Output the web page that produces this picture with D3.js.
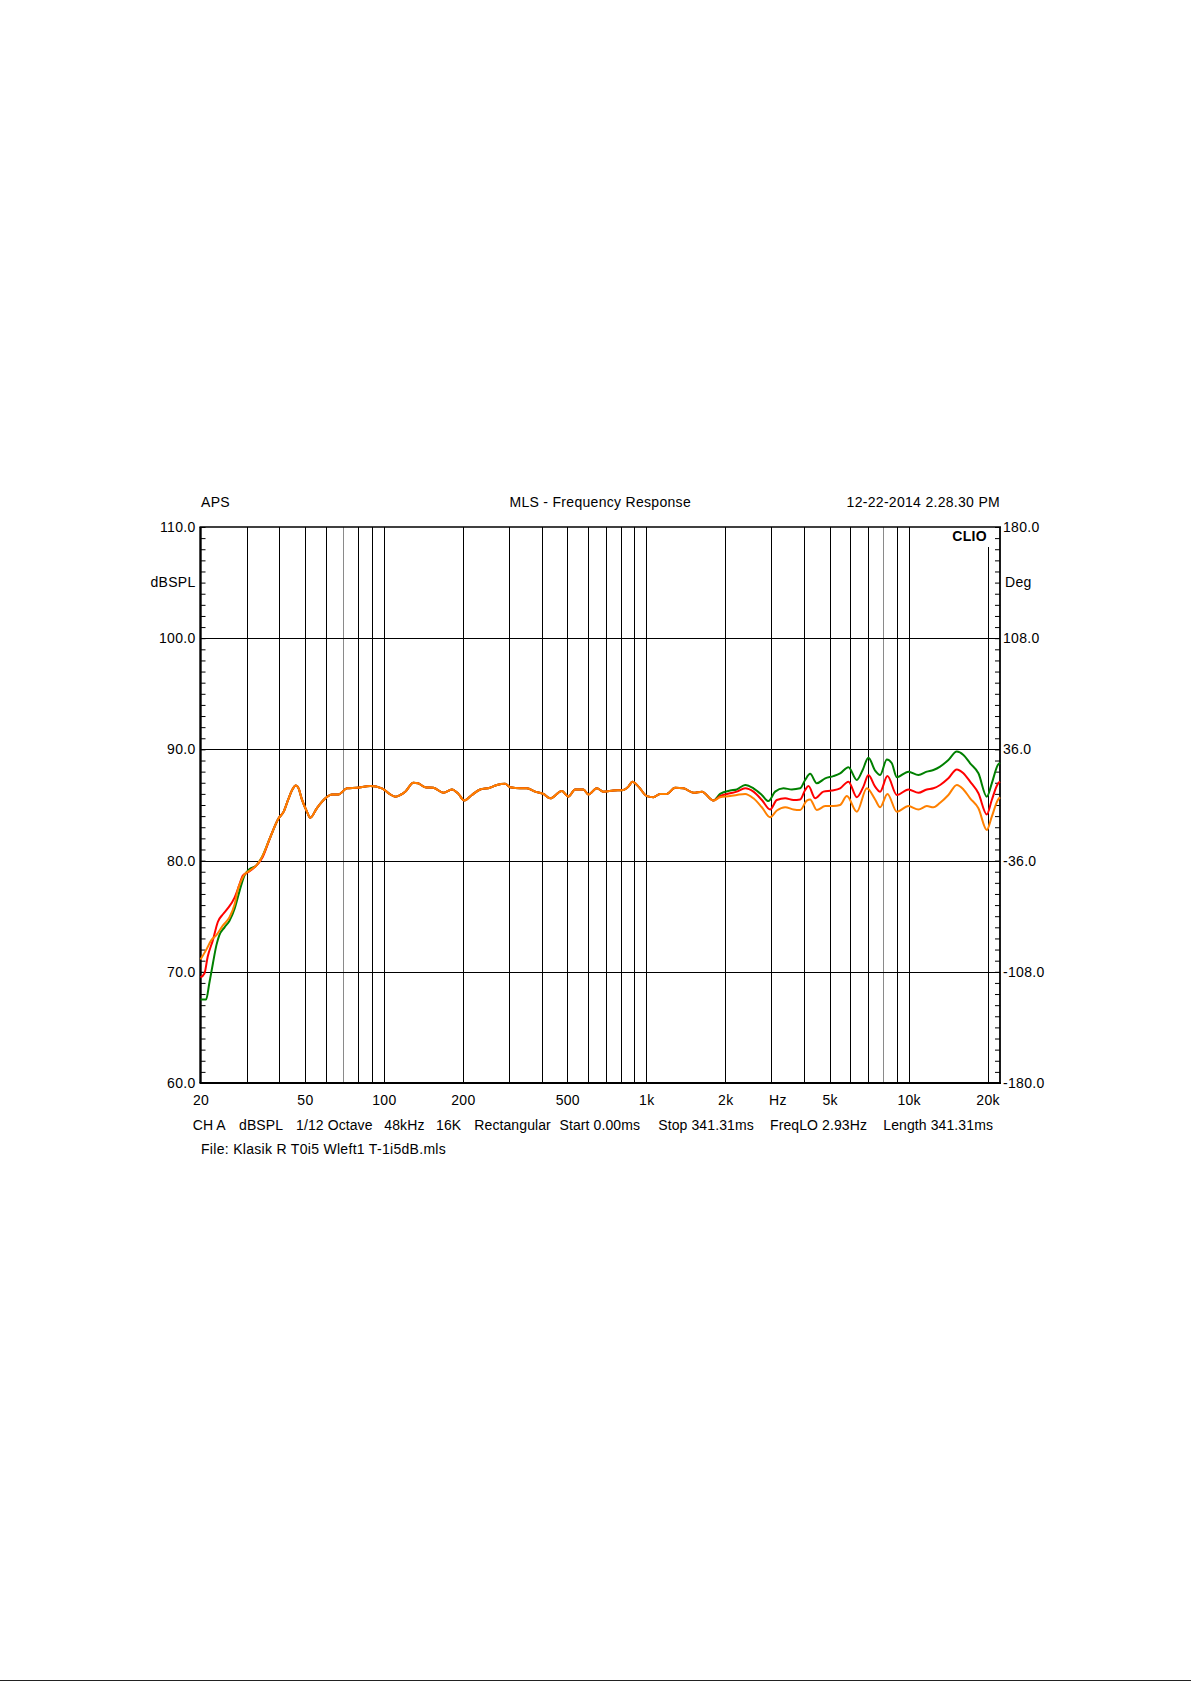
<!DOCTYPE html>
<html>
<head>
<meta charset="utf-8">
<script src="https://cdn.jsdelivr.net/npm/d3@7"></script>
<style>
  html, body { margin: 0; padding: 0; background: #ffffff; }
  svg { display: block; }
  text { font-family: "Liberation Sans", Arial, sans-serif; fill: #000; letter-spacing: 0.3px; }
  text.info { letter-spacing: 0.1px; }
</style>
</head>
<body>
<script>
// ---------------- DATA ----------------
const headerLeft = "APS";
const headerTitle = "MLS - Frequency Response";
const headerDate = "12-22-2014 2.28.30 PM";
const brand = "CLIO";
const leftUnit = "dBSPL";
const rightUnit = "Deg";
const infoItems = ["CH A", "dBSPL", "1/12 Octave", "48kHz", "16K", "Rectangular",
  "Start 0.00ms", "Stop 341.31ms", "FreqLO 2.93Hz", "Length 341.31ms"];
const fileLine = "File: Klasik R T0i5 Wleft1 T-1i5dB.mls";

const freqDomain = [20, 22300];
const dbDomain = [60, 110];
const phaseDomain = [-180, 180];

const xTickValues = [20, 50, 100, 200, 500, 1000, 2000, 3000, 5000, 10000, 20000];
const xTickLabels = ["20", "50", "100", "200", "500", "1k", "2k", "Hz", "5k", "10k", "20k"];
const gridFreqs = [30, 40, 50, 60, 70, 80, 90, 100, 200, 300, 400, 500, 600, 700, 800, 900,
  1000, 2000, 3000, 4000, 5000, 6000, 7000, 8000, 9000, 10000, 20000];
const grayGridFreqs = [70, 8000];
const dbGrid = [70, 80, 90, 100];
const dbLabels = [60, 70, 80, 90, 100, 110];
const phaseLabels = [-180, -108, -36, 36, 108, 180];

// low-frequency part (series differ)
const greenLow = [[20, 67.5], [21.0, 67.5], [21.6, 68.95], [22.3, 70.75], [23.0, 72.4], [23.6, 73.3],
  [24.7, 74.0], [25.8, 74.6], [27.0, 75.7], [28.2, 77.3], [29.4, 78.65], [30.8, 79.25], [32.6, 79.55], [34.3, 80.3]];
const redLow = [[20, 69.5], [20.7, 69.85], [21.3, 71.35], [22.3, 72.85], [23.3, 74.5], [24.4, 75.2],
  [25.4, 75.7], [27.0, 76.7], [28.2, 77.9], [29.0, 78.65], [30.3, 78.95], [32.1, 79.4], [34.3, 80.2]];
const orangeLow = [[20, 71.1], [21.0, 71.95], [22.0, 72.85], [23.0, 73.3], [24.4, 74.2], [25.8, 74.9],
  [27.0, 76.1], [27.8, 77.45], [28.6, 78.2], [29.4, 78.75], [30.8, 79.1], [32.6, 79.55], [34.3, 80.3]];

// mid band (all three series coincide)
const midBand = [[36.9, 82.1], [39.7, 83.8], [41.5, 84.4], [43.2, 85.5], [44.8, 86.4], [46.2, 86.75], [47.3, 86.5], [48.7, 85.5],
  [50.9, 84.4], [52.4, 83.85], [55.5, 84.7], [59.8, 85.6], [63.4, 85.95], [67.1, 85.95], [72.3, 86.5],
  [78.9, 86.55], [88.7, 86.7], [98.3, 86.5], [105, 86.0], [110.5, 85.75], [115.4, 85.9], [120.6, 86.2],
  [129.6, 87.0], [135, 86.95], [143.7, 86.6], [154.5, 86.55], [168.7, 86.1], [181.6, 86.4], [192.4, 86.0],
  [202.4, 85.4], [216.4, 85.9], [232.8, 86.4], [254, 86.55], [269.6, 86.8], [289.8, 86.9], [302.8, 86.6],
  [330.6, 86.5], [350.8, 86.5], [377.2, 86.2], [405.6, 86.0], [430.4, 85.6], [476.8, 86.25], [505, 85.75],
  [535.8, 86.4], [576, 86.4], [602, 85.95], [648, 86.5], [687, 86.2], [750, 86.3], [819, 86.35],
  [855, 86.65], [886, 87.1], [934, 86.65], [1005, 85.8], [1065, 85.7], [1130, 86.0], [1197, 86.0],
  [1288, 86.55], [1386, 86.5], [1514, 86.1], [1630, 86.2], [1803, 85.4]];

// high-frequency part (series differ)
const greenHigh = [[1912, 86.0], [2088, 86.3], [2214, 86.4], [2382, 86.8], [2562, 86.5], [2758, 85.9],
  [2922, 85.35], [3098, 86.2], [3334, 86.5], [3588, 86.4], [3860, 86.5], [4032, 87.25], [4212, 87.8],
  [4468, 86.95], [4808, 87.4], [5168, 87.6], [5482, 87.85], [5898, 88.4], [6348, 87.25], [6668, 88.1],
  [7028, 89.25], [7452, 88.1], [7786, 87.7], [8260, 89.1], [8630, 88.75], [9016, 87.5], [9982, 88.0],
  [10900, 87.7], [11732, 88.0], [12430, 88.15], [13184, 88.45], [14176, 89.05], [15264, 89.8],
  [16176, 89.5], [17154, 88.75], [18452, 87.85], [19862, 85.75], [20750, 86.95], [21876, 88.6], [22300, 88.8]];
const redHigh = [[1912, 85.8], [2088, 86.05], [2214, 86.2], [2382, 86.5], [2562, 86.2], [2758, 85.45],
  [2966, 84.6], [3146, 85.45], [3384, 85.6], [3640, 85.45], [3860, 85.5], [4032, 86.35], [4152, 86.7],
  [4402, 85.6], [4734, 86.2], [5096, 86.3], [5482, 86.5], [5898, 87.1], [6348, 85.7], [6726, 86.65],
  [7028, 87.7], [7452, 86.65], [7786, 86.2], [8304, 87.6], [9016, 85.9], [9982, 86.4], [10900, 86.1],
  [11732, 86.4], [12430, 86.5], [13184, 86.8], [14176, 87.4], [15264, 88.2], [16176, 87.85],
  [17154, 87.1], [18452, 86.05], [19862, 84.15], [20750, 85.45], [21876, 86.9], [22300, 87.1]];
const orangeHigh = [[1912, 85.7], [2088, 85.8], [2214, 85.9], [2382, 86.0], [2562, 85.6], [2758, 84.8],
  [2966, 83.9], [3146, 84.5], [3384, 84.8], [3640, 84.6], [3860, 84.55], [4092, 85.4], [4212, 85.5],
  [4468, 84.55], [4808, 84.9], [5168, 84.9], [5482, 85.0], [5816, 85.8], [6348, 84.4], [6930, 86.5],
  [7452, 85.5], [7786, 84.8], [8304, 86.0], [9016, 84.4], [9982, 84.9], [10900, 84.6], [11732, 84.9],
  [12430, 84.8], [13184, 85.2], [14176, 85.9], [15264, 86.8], [16176, 86.4], [17154, 85.6],
  [18452, 84.7], [19862, 82.75], [20750, 83.95], [21876, 85.45], [22300, 85.7]];

const seriesNames = ["green", "red", "orange"];
const seriesColors = ["#008000", "#ff0000", "#ff8000"];
const seriesLow = [greenLow, redLow, orangeLow];
const seriesHigh = [greenHigh, redHigh, orangeHigh];

// ---------------- LAYOUT ----------------
const W = 1191, H = 1685;
const L = 200.5, R = 1000, T = 527, B = 1083;
const FONT = "Liberation Sans, Arial, sans-serif";
const infoX = [192.7, 239, 296, 384.3, 436, 474.3, 559.5, 658.3, 770, 883.3];

const svg = d3.select("body").append("svg").attr("width", W).attr("height", H);

const x = d3.scaleLog().domain(freqDomain).range([L, R]);
const y = d3.scaleLinear().domain(dbDomain).range([B, T]);
const yPh = d3.scaleLinear().domain(phaseDomain).range([B, T]);

// vertical grid
const g = svg.append("g");
g.selectAll("line.vg").data(gridFreqs).enter().append("line")
  .attr("x1", d => Math.round(x(d)) + 0.5).attr("x2", d => Math.round(x(d)) + 0.5)
  .attr("y1", d => d === 20000 ? 547 : T).attr("y2", B)
  .attr("stroke", d => grayGridFreqs.includes(d) ? "#8a8a8a" : "#000")
  .attr("stroke-width", 1);

// horizontal grid
g.selectAll("line.hg").data(dbGrid).enter().append("line")
  .attr("x1", L).attr("x2", R)
  .attr("y1", d => Math.round(y(d)) + 0.5).attr("y2", d => Math.round(y(d)) + 0.5)
  .attr("stroke", "#000").attr("stroke-width", 1);

// minor ticks left (inside)
const leftMinor = d3.axisLeft(y).tickValues(d3.range(60, 111, 1)).tickSize(-5).tickFormat("");
svg.append("g").attr("transform", `translate(${L},0)`).call(leftMinor)
  .call(s => s.select(".domain").remove())
  .selectAll("line").attr("stroke", "#000");
// minor ticks right (inside)
const rightMinor = d3.axisRight(yPh).tickValues(d3.range(-180, 181, 7.2)).tickSize(-5).tickFormat("");
svg.append("g").attr("transform", `translate(${R},0)`).call(rightMinor)
  .call(s => s.select(".domain").remove())
  .selectAll("line").attr("stroke", "#000");

// frame
svg.append("line").attr("x1", L - 1).attr("x2", R + 1).attr("y1", T).attr("y2", T).attr("stroke", "#000").attr("stroke-width", 1.6);
svg.append("line").attr("x1", L - 1).attr("x2", R + 1).attr("y1", B).attr("y2", B).attr("stroke", "#000").attr("stroke-width", 2);
svg.append("line").attr("x1", L).attr("x2", L).attr("y1", T).attr("y2", B).attr("stroke", "#000").attr("stroke-width", 2.4);
svg.append("line").attr("x1", R).attr("x2", R).attr("y1", T).attr("y2", B).attr("stroke", "#000").attr("stroke-width", 1.8);

// curves
const line = d3.line().x(d => x(d[0])).y(d => y(d[1])).curve(d3.curveMonotoneX);
const curves = svg.append("g");
seriesNames.forEach((name, i) => {
  const pts = seriesLow[i].concat(midBand, seriesHigh[i]);
  curves.append("path").datum(pts)
    .attr("class", "series-" + name)
    .attr("d", line)
    .attr("fill", "none")
    .attr("stroke", seriesColors[i])
    .attr("stroke-width", 2)
    .attr("stroke-linejoin", "round");
});

const fmt1 = d => d.toFixed(1);

// left labels
const leftAxis = d3.axisLeft(y).tickValues(dbLabels).tickSize(0).tickPadding(5).tickFormat(fmt1);
svg.append("g").attr("transform", `translate(${L},0)`).call(leftAxis)
  .call(s => s.select(".domain").remove())
  .selectAll("text").attr("font-size", 14).attr("font-family", FONT).attr("fill", "#000");
// right labels
const rightAxis = d3.axisRight(yPh).tickValues(phaseLabels).tickSize(0).tickPadding(3).tickFormat(fmt1);
svg.append("g").attr("transform", `translate(${R},0)`).call(rightAxis)
  .call(s => s.select(".domain").remove())
  .selectAll("text").attr("font-size", 14).attr("font-family", FONT).attr("fill", "#000");

// bottom labels
const bottomAxis = d3.axisBottom(x).tickValues(xTickValues).tickSize(0).tickPadding(12)
  .tickFormat((d, i) => xTickLabels[i]);
svg.append("g").attr("transform", `translate(0,${B})`).call(bottomAxis)
  .call(s => s.select(".domain").remove())
  .selectAll("text").attr("font-size", 14).attr("font-family", FONT).attr("fill", "#000")
  .attr("dx", (d) => d === 3000 ? 6 : 0);

// unit labels
svg.append("text").attr("x", L - 5).attr("y", y(105) + 1).attr("text-anchor", "end")
  .attr("dominant-baseline", "middle").attr("font-size", 14).text(leftUnit);
svg.append("text").attr("x", R + 5).attr("y", y(105) + 1).attr("text-anchor", "start")
  .attr("dominant-baseline", "middle").attr("font-size", 14).text(rightUnit);

// header
svg.append("text").attr("x", L + 0.5).attr("y", 503).attr("dominant-baseline", "middle").attr("font-size", 14).text(headerLeft);
svg.append("text").attr("x", (L + R) / 2).attr("y", 503).attr("text-anchor", "middle").attr("dominant-baseline", "middle").attr("font-size", 14).text(headerTitle);
svg.append("text").attr("x", R).attr("y", 503).attr("text-anchor", "end").attr("dominant-baseline", "middle").attr("font-size", 14).text(headerDate);

// CLIO brand
svg.append("text").attr("x", 987).attr("y", 537.5).attr("text-anchor", "end").attr("dominant-baseline", "middle")
  .attr("font-size", 14).attr("font-weight", "bold").text(brand);

// info line
svg.selectAll("text.info").data(infoItems).enter().append("text")
  .attr("class", "info")
  .attr("x", (d, i) => infoX[i]).attr("y", 1126).attr("dominant-baseline", "middle")
  .attr("font-size", 14).text(d => d);
svg.append("text").attr("x", 201).attr("y", 1150.5).attr("dominant-baseline", "middle").attr("font-size", 14).text(fileLine);

// page bottom rule
svg.append("line").attr("x1", 0).attr("x2", W).attr("y1", 1680.5).attr("y2", 1680.5).attr("stroke", "#222").attr("stroke-width", 1);
</script>
</body>
</html>
